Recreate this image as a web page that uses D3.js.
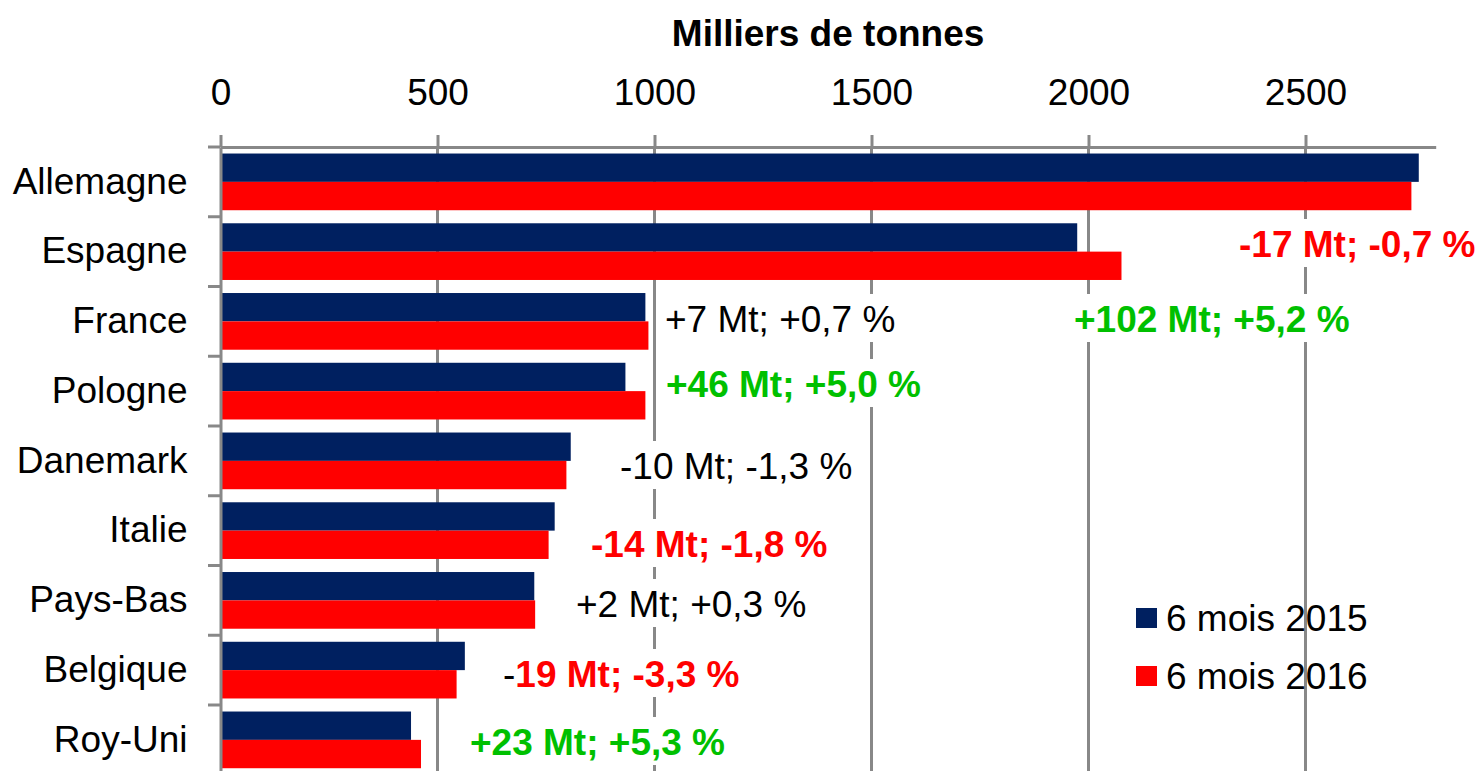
<!DOCTYPE html>
<html>
<head>
<meta charset="utf-8">
<script src="https://cdn.jsdelivr.net/npm/d3@7"></script>
<style>
    html, body { margin: 0; padding: 0; background: #fff; }
    svg { display: block; font-family: "Liberation Sans", Arial, sans-serif; }
</style>
</head>
<body>
<div id="chart"></div>
<script>
/*
 * Data
 * */

var countries = ['Allemagne', 'Espagne', 'France', 'Pologne', 'Danemark', 'Italie', 'Pays-Bas', 'Belgique', 'Roy-Uni'];
var series = ['6 mois 2015', '6 mois 2016'];
var values2015 = [2761, 1974, 979, 933, 807, 770, 723, 563, 439];
var values2016 = [2744, 2076, 986, 979, 797, 756, 725, 544, 462];
var tickValues = [0, 500, 1000, 1500, 2000, 2500];

var noteTexts = ['-17 Mt; -0,7 %', '+102 Mt; +5,2 %', '+7 Mt; +0,7 %', '+46 Mt; +5,0 %',
    '-10 Mt; -1,3 %', '-14 Mt; -1,8 %', '+2 Mt; +0,3 %', '-19 Mt; -3,3 %', '+23 Mt; +5,3 %'];
var noteKinds = ['down', 'up', 'flat', 'up', 'flat', 'down', 'flat', 'down', 'up'];

/*
 * Layout / styles
 * */

var width = 1481,
    height = 771,
    navy = '#002060',
    red = '#ff0000',
    green = '#00c000',
    grey = '#888888',
    fontSize = 37;

var kindStyle = {
    up: { fill: green, weight: 'bold' },
    down: { fill: red, weight: 'bold' },
    flat: { fill: '#000', weight: 'normal' }
};

// left edge and baseline of each annotation text box
var notePlace = [[1239, 257], [1074, 332], [665, 332], [666, 397], [620, 479],
    [591, 557], [576, 617], [503, 687], [470, 755]];

var svg = d3.select('#chart')
    .append('svg')
    .attr('width', width)
    .attr('height', height);

var x = d3.scaleLinear()
    .domain([0, 2800])
    .range([220.5, 220.5 + 2800 * 0.434]);

var y = d3.scaleBand()
    .domain(countries)
    .range([147, 147 + 9 * 69.75])
    .paddingInner(0.187)
    .paddingOuter(0.0935);

var ySub = d3.scaleBand()
    .domain(series)
    .range([0, y.bandwidth()]);

var colour = d3.scaleOrdinal()
    .domain(series)
    .range([navy, red]);

/*
 * Gridlines
 * */

svg.append('g')
    .selectAll('line')
    .data(tickValues.slice(1))
    .join('line')
    .attr('x1', function (d) { return x(d); })
    .attr('x2', function (d) { return x(d); })
    .attr('y1', y.range()[0])
    .attr('y2', height)
    .attr('stroke', grey)
    .attr('stroke-width', 3);

/*
 * Bars
 * */

var rows = countries.map(function (c, i) {
    return { country: c, vals: [values2015[i], values2016[i]] };
});

svg.append('g')
    .selectAll('g')
    .data(rows)
    .join('g')
    .attr('transform', function (d) { return 'translate(0,' + y(d.country) + ')'; })
    .selectAll('rect')
    .data(function (d) {
        return series.map(function (s, j) { return { key: s, value: d.vals[j] }; });
    })
    .join('rect')
    .attr('x', x(0))
    .attr('y', function (d) { return ySub(d.key); })
    .attr('width', function (d) { return x(d.value) - x(0); })
    .attr('height', ySub.bandwidth())
    .attr('fill', function (d) { return colour(d.key); });

/*
 * Axes
 * */

var xAxis = svg.append('g')
    .attr('transform', 'translate(0,' + y.range()[0] + ')')
    .call(d3.axisTop(x)
        .tickValues(tickValues)
        .tickFormat(d3.format('d'))
        .tickSize(12)
        .tickPadding(30)
        .tickSizeOuter(0));

xAxis.select('.domain').attr('stroke', grey).attr('stroke-width', 3);
xAxis.selectAll('.tick line').attr('stroke', grey).attr('stroke-width', 3);
xAxis.selectAll('.tick text')
    .attr('font-size', fontSize)
    .attr('font-family', '"Liberation Sans", Arial, sans-serif')
    .attr('fill', '#000');

var yAxis = svg.append('g')
    .attr('transform', 'translate(' + x(0) + ',0)')
    .call(d3.axisLeft(y).tickSize(0).tickPadding(33));

yAxis.select('.domain').attr('stroke', grey).attr('stroke-width', 3);
yAxis.selectAll('.tick text')
    .attr('font-size', fontSize)
    .attr('font-family', '"Liberation Sans", Arial, sans-serif')
    .attr('fill', '#000');

// ticks sit on the category boundaries
var half = (y.step() - y.bandwidth()) / 2;
yAxis.append('g')
    .selectAll('line')
    .data(countries)
    .join('line')
    .attr('x1', -12.5)
    .attr('x2', 0)
    .attr('y1', function (d) { return y(d) - half; })
    .attr('y2', function (d) { return y(d) - half; })
    .attr('stroke', grey)
    .attr('stroke-width', 3);

svg.append('text')
    .attr('x', (x.range()[0] + x.range()[1]) / 2)
    .attr('y', 46)
    .attr('text-anchor', 'middle')
    .attr('font-size', fontSize)
    .attr('font-weight', 'bold')
    .text('Milliers de tonnes');

/*
 * Annotations
 * */

var notes = svg.append('g')
    .selectAll('g')
    .data(noteTexts)
    .join('g')
    .attr('transform', function (d, i) {
        return 'translate(' + notePlace[i][0] + ',' + notePlace[i][1] + ')';
    });

notes.each(function (d, i) {
    var g = d3.select(this);
    var st = kindStyle[noteKinds[i]];
    var bg = g.append('rect').attr('fill', '#fff');
    var t = g.append('text')
        .attr('font-size', fontSize)
        .attr('font-weight', st.weight)
        .attr('fill', st.fill);

    // the Belgique note starts with a plain black minus
    if (i === 7) {
        t.append('tspan').attr('fill', '#000').attr('font-weight', 'normal').text(d.charAt(0));
        t.append('tspan').text(d.slice(1));
    } else {
        t.text(d);
    }

    var w = t.node().getComputedTextLength();
    bg.attr('x', -8).attr('y', -38).attr('width', w + 16).attr('height', 48);
});

/*
 * Legend
 * */

var legend = svg.append('g')
    .selectAll('g')
    .data(series)
    .join('g')
    .attr('transform', function (d, i) { return 'translate(1136,' + (608 + i * 58) + ')'; });

legend.append('rect')
    .attr('width', 21)
    .attr('height', 20)
    .attr('fill', function (d) { return colour(d); });

legend.append('text')
    .attr('x', 30)
    .attr('y', 22.7)
    .attr('font-size', fontSize)
    .text(function (d) { return d; });
</script>
</body>
</html>
